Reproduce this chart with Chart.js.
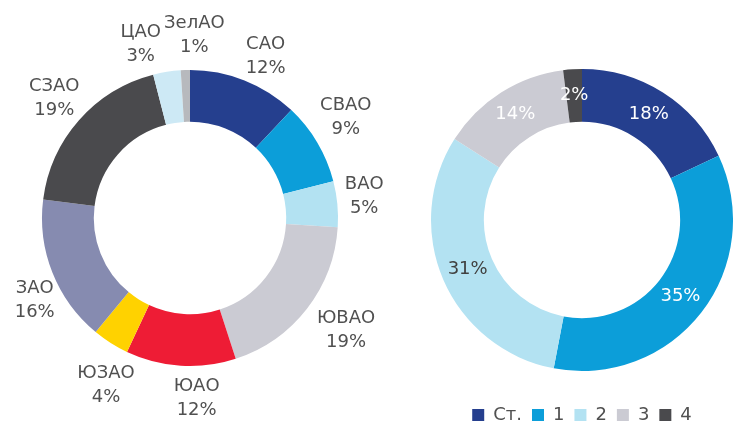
<!DOCTYPE html>
<html>
<head>
<meta charset="utf-8">
<script src="https://cdn.jsdelivr.net/npm/chart.js@4.4.1/dist/chart.umd.min.js"></script>
<style>
  html, body { margin: 0; padding: 0; background: #fff; overflow: hidden; }
  #wrap { position: relative; width: 733px; height: 424px; overflow: hidden; }
  #left-box { position: absolute; left: 0; top: 0; width: 400px; height: 424px; }
  #right-box { position: absolute; left: 412px; top: 0; width: 321px; height: 440px; }
</style>
</head>
<body>
<div id="wrap">
  <div id="left-box"><canvas id="districts-chart"></canvas></div>
  <div id="right-box"><canvas id="class-chart"></canvas></div>
</div>
<script>
// Left ring: share by district
const districts = ['САО', 'СВАО', 'ВАО', 'ЮВАО', 'ЮАО', 'ЮЗАО', 'ЗАО', 'СЗАО', 'ЦАО', 'ЗелАО'];
const districtShare = [12, 9, 5, 19, 12, 4, 16, 19, 3, 1];
const districtColors = ['#253f8e', '#0c9ed9', '#b3e2f2', '#cbcbd3', '#ee1c35', '#ffd200', '#868bb0', '#4a4a4d', '#cde9f5', '#b7b9bd'];

// Right ring: share by class
const classes = ['Ст.', '1', '2', '3', '4'];
const classShare = [18, 35, 31, 14, 2];
const classColors = ['#253f8e', '#0c9ed9', '#b3e2f2', '#cbcbd3', '#4a4a4d'];
const classLabelColors = ['#fff', '#fff', '#404040', '#fff', '#fff'];

// small shifts so the outside labels sit where they do in the picture
const labelNudge = [[9, 7], [0, -9], [-6, -5], [13, 1], [18, 0], [13, 15], [13, 16], [0, 0], [-21, 5], [10, -2]];

const FONT = '"DejaVu Sans", Verdana, sans-serif';
const TEXT = '#505050';

// draws "name / xx%" outside each arc
const outsideLabels = {
    id: 'outsideLabels',
    afterDatasetsDraw(chart) {
        const ctx = chart.ctx;
        const meta = chart.getDatasetMeta(0);
        ctx.save();
        ctx.font = '18px ' + FONT;
        ctx.fillStyle = TEXT;
        ctx.textAlign = 'center';
        ctx.textBaseline = 'middle';
        meta.data.forEach((arc, i) => {
            const p = arc.getProps(['x', 'y', 'startAngle', 'endAngle', 'outerRadius']);
            const mid = (p.startAngle + p.endAngle) / 2;
            const r = p.outerRadius + 33;
            const x = p.x + Math.cos(mid) * r + labelNudge[i][0];
            const y = p.y + Math.sin(mid) * r + labelNudge[i][1];
            ctx.fillText(chart.data.labels[i], x, y - 12);
            ctx.fillText(chart.data.datasets[0].data[i] + '%', x, y + 12);
        });
        ctx.restore();
    }
};

// draws "xx%" in the middle of each ring segment
const insideLabels = {
    id: 'insideLabels',
    afterDatasetsDraw(chart) {
        const ctx = chart.ctx;
        const meta = chart.getDatasetMeta(0);
        ctx.save();
        ctx.font = '18px ' + FONT;
        ctx.textAlign = 'center';
        ctx.textBaseline = 'middle';
        meta.data.forEach((arc, i) => {
            const p = arc.getProps(['x', 'y', 'startAngle', 'endAngle', 'innerRadius', 'outerRadius']);
            const mid = (p.startAngle + p.endAngle) / 2;
            const r = (p.innerRadius + p.outerRadius) / 2;
            ctx.fillStyle = classLabelColors[i];
            ctx.fillText(chart.data.datasets[0].data[i] + '%', p.x + Math.cos(mid) * r, p.y + Math.sin(mid) * r);
        });
        ctx.restore();
    }
};

new Chart(document.getElementById('districts-chart'), {
    type: 'doughnut',
    data: {
        labels: districts,
        datasets: [{ data: districtShare, backgroundColor: districtColors, borderWidth: 0 }]
    },
    options: {
        responsive: true,
        maintainAspectRatio: false,
        animation: false,
        cutout: '65%',
        layout: { padding: { left: 42, right: 62, top: 70, bottom: 58 } },
        plugins: { legend: { display: false }, tooltip: { enabled: false } }
    },
    plugins: [outsideLabels]
});

new Chart(document.getElementById('class-chart'), {
    type: 'doughnut',
    data: {
        labels: classes,
        datasets: [{ data: classShare, backgroundColor: classColors, borderWidth: 0 }]
    },
    options: {
        responsive: true,
        maintainAspectRatio: false,
        animation: false,
        cutout: '65%',
        layout: { padding: { left: 19, right: 0, top: 44, bottom: 6 } },
        plugins: {
            legend: {
                position: 'bottom',
                labels: {
                    font: { family: FONT, size: 18 },
                    color: TEXT,
                    boxWidth: 12,
                    boxHeight: 12,
                    padding: 10
                }
            },
            tooltip: { enabled: false }
        }
    },
    plugins: [insideLabels]
});
</script>
</body>
</html>
